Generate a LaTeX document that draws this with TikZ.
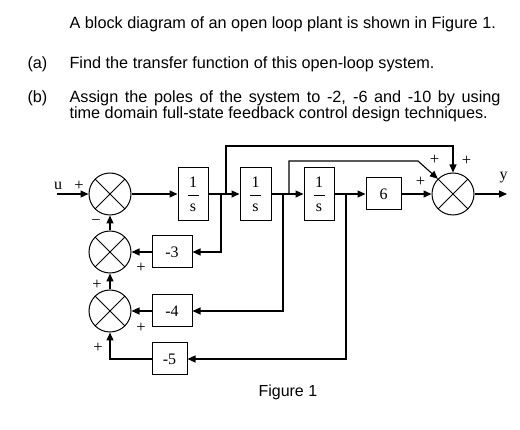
\documentclass[tikz,border=0pt]{standalone}
\usepackage{fontspec}
\setmainfont{Liberation Serif}
\newfontfamily\arialf{Liberation Sans}
\usetikzlibrary{arrows.meta,calc}
\begin{document}
\begin{tikzpicture}[x=1pt,y=-1pt,
  line width=1.1pt,
  arr/.style={-{Triangle[length=8pt,width=7pt]}},
  blk/.style={draw,line width=1pt,inner sep=0pt,font=\fontsize{16}{18}\selectfont},
  sumc/.style={draw,circle,line width=1pt,minimum size=42pt,inner sep=0pt,
    path picture={\draw[line width=1pt] (path picture bounding box.north west)--(path picture bounding box.south east)
      (path picture bounding box.north east)--(path picture bounding box.south west);}},
  sgn/.style={font=\fontsize{16.5}{16.5}\selectfont,inner sep=0pt},
  frn/.style={anchor=base,inner sep=0pt,font=\fontsize{16}{18}\selectfont},
  txt/.style={anchor=base west,inner sep=0pt,font=\arialf\fontsize{16.25}{18}\selectfont}]
\useasboundingbox (0,0) rectangle (520,430);

% text
\node[txt] (t1) at (69,29) {A block diagram of an open loop plant is shown in Figure 1.};
\node[txt] (la) at (27,68.5) {(a)};
\node[txt] (ta1) at (69,68.5) {Find the transfer function of this open-loop system.};
\node[txt] (lb) at (27,102.5) {(b)};
\node[txt] (tb1) at (69,102.5) {\makebox[431pt][s]{Assign the poles of the system to -2, -6 and -10 by using}};
\node[txt] (tb2l) at (69,118.5) {time domain full-state feedback control design techniques.};

% summing junctions
\node[sumc] (s1) at (110,194) {};
\node[sumc] (s2) at (110,252) {};
\node[sumc] (s3) at (110,311) {};
\node[sumc] (S) at (453,194) {};

% blocks
\node[blk,minimum width=30pt,minimum height=53pt] (b1) at (193,194) {};
\node[blk,minimum width=31pt,minimum height=53pt] (b2) at (255.5,194) {};
\node[blk,minimum width=30pt,minimum height=53pt] (b3) at (319,194) {};
\foreach \b in {b1,b2,b3}{
  \node[frn] (\b n) at ($(\b)+(0,-6)$) {1};
  \draw[line width=0.7pt] ($(\b)+(-5.5,1)$) -- ($(\b)+(5.5,1)$);
  \node[frn] (\b d) at ($(\b)+(0,18)$) {s};
}
\node[blk,minimum width=35pt,minimum height=32pt] (m6) at (383.5,194) {6};
\node[blk,minimum width=40pt,minimum height=32pt] (m3) at (172,252) {-3};
\node[blk,minimum width=40pt,minimum height=32pt] (m4) at (172,311) {-4};
\node[blk,minimum width=35pt,minimum height=32pt] (m5) at (169.5,359) {-5};

% connectors
\coordinate (uin) at (57,194);
\draw[arr] (uin) -- (s1.west);
\draw[arr] (s1.east) -- (b1.west);
\draw[arr] (b1.east) -- (b2.west);
\draw[arr] (b2.east) -- (b3.west);
\draw[arr] (b3.east) -- (m6.west);
\draw[arr] (m6.east) -- (S.west);
\coordinate (yout) at (507,194);
\draw[arr] (S.east) -- (yout);
\coordinate (j1) at (221,194);
\draw[arr] (j1) |- (m3.east);
\coordinate (j2) at (283,194);
\draw[arr] (j2) |- (m4.east);
\coordinate (j3) at (346,194);
\draw[arr] (j3) |- (m5.east);
\draw[arr] (m3.west) -- (s2.east);
\draw[arr] (m4.west) -- (s3.east);
\draw[arr] (m5.west) -| (s3.south);
\draw[arr] (s3.north) -- (s2.south);
\draw[arr] (s2.north) -- (s1.south);
\coordinate (j1t) at (226,194);
\coordinate (ta) at (226,146);
\draw[arr] (j1t) -- (ta) -| (S.north);
\coordinate (j2t) at (289,194);
\coordinate (tb) at (289,161);
\coordinate (tc) at (418,161);
\draw[arr] (j2t) -- (tb) -- (tc) -- (S.north west);

% signs and labels
\node[frn] (lu) at (58,190) {u};
\node[sgn] (p1) at (79,185.5) {+};
\node[sgn] (mn) at (96,223) {−};
\node[sgn] (p2) at (141,268) {+};
\node[sgn] (p3) at (97,284.5) {+};
\node[sgn] (p4) at (141,328) {+};
\node[sgn] (p5) at (98,348) {+};
\node[sgn] (p6) at (434.5,159.5) {+};
\node[sgn] (p7) at (466.5,161) {+};
\node[sgn] (p8) at (420.5,181.5) {+};
\node[frn] (ly) at (503.5,180) {y};
\node[txt,font=\arialf\fontsize{16}{18}\selectfont] (fig) at (258,397) {Figure 1};
\end{tikzpicture}
\end{document}
